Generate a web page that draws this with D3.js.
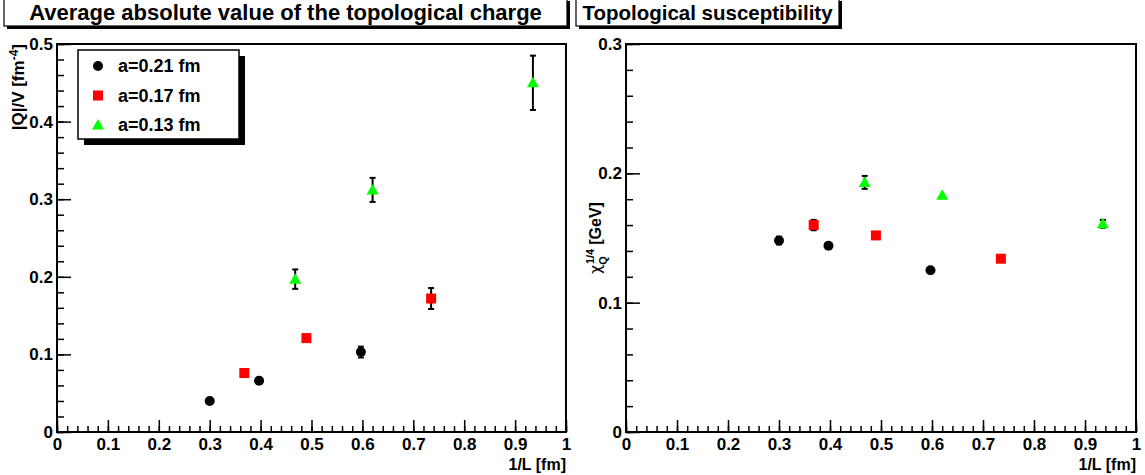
<!DOCTYPE html>
<html><head><meta charset="utf-8">
<script src="https://cdn.jsdelivr.net/npm/d3@7"></script>
<style>body{margin:0;background:#fff}svg{display:block;font-family:"Liberation Sans",Arial,sans-serif;font-weight:bold}</style>
</head><body><svg id="c" width="1145" height="475"></svg>
<script>
const xTicks = [0,0.1,0.2,0.3,0.4,0.5,0.6,0.7,0.8,0.9,1];
const xTickLabels = ["0","0.1","0.2","0.3","0.4","0.5","0.6","0.7","0.8","0.9","1"];
const yTicksLeft = [0,0.1,0.2,0.3,0.4,0.5];
const yTickLabelsLeft = ["0","0.1","0.2","0.3","0.4","0.5"];
const yTicksRight = [0,0.1,0.2,0.3];
const yTickLabelsRight = ["0","0.1","0.2","0.3"];
const seriesNames = ["a=0.21 fm","a=0.17 fm","a=0.13 fm"];
const seriesColors = ["#000000","#ff0000","#00ff00"];
const seriesShapes = ["circle","square","triangle"];
// 1/L values per lattice spacing
const invL = [[0.300,0.397,0.597],[0.368,0.490,0.735],[0.468,0.620,0.935]];
// <|Q|>/V [fm^-4]
const qv = [[0.040,0.066,0.103],[0.076,0.121,0.172],[0.197,0.312,0.450]];
const qvErr = [[0.002,0.002,0.007],[0.002,0.002,0.0135],[0.0125,0.0155,0.035]];
// chi^(1/4) [GeV]
const chi = [[0.148,0.144,0.125],[0.160,0.152,0.134],[0.193,0.183,0.161]];
const chiErr = [[0.003,0.001,0.001],[0.004,0.001,0.001],[0.005,0.001,0.003]];

const svg = d3.select("#c");

function titleBox(x0,x1,text,fs){
  const g = svg.append("g");
  g.append("rect").attr("x",x0+3).attr("y",-2+3).attr("width",x1-x0).attr("height",28).attr("fill","#000");
  g.append("rect").attr("x",x0).attr("y",-2).attr("width",x1-x0).attr("height",28).attr("fill","#fff").attr("stroke","#000").attr("stroke-width",1.2);
  g.append("text").attr("x",(x0+x1)/2).attr("y",20).attr("text-anchor","middle").attr("font-size",fs).text(text);
}

function marker(g,shape,color,cx,cy){
  if(shape==="circle") g.append("circle").attr("cx",cx).attr("cy",cy).attr("r",5).attr("fill",color);
  else if(shape==="square") g.append("rect").attr("x",cx-5).attr("y",cy-5).attr("width",10).attr("height",10).attr("fill",color);
  else g.append("path").attr("d",`M${cx},${cy-6}L${cx+6},${cy+4.5}L${cx-6},${cy+4.5}Z`).attr("fill",color);
}

function panel(px0,px1,ymax,yTicks,yLabels,ys,yerr,legend){
  const x = d3.scaleLinear().domain([0,1]).range([px0,px1]);
  const y = d3.scaleLinear().domain([0,ymax]).range([432,44]);
  const g = svg.append("g");
  const xMinor = d3.range(0,1.0001,0.02);
  g.append("g").attr("transform","translate(0,432)")
    .call(d3.axisBottom(x).tickValues(xMinor).tickSize(-6).tickFormat(""))
    .call(a=>{a.select(".domain").remove();a.selectAll("line").attr("stroke-width",1.5);});
  g.append("g").attr("transform","translate(0,432)")
    .call(d3.axisBottom(x).tickValues(xTicks).tickSize(-12).tickPadding(15).tickFormat((d,i)=>xTickLabels[i]))
    .call(a=>{a.select(".domain").remove();a.selectAll("line").attr("stroke-width",1.5);
      a.selectAll("text").attr("font-size",17).attr("font-family","Liberation Sans, Arial").attr("font-weight","bold").attr("fill","#000").attr("dy","0.2em");});
  const yMinor = d3.range(0,ymax+1e-9,0.02);
  g.append("g").attr("transform",`translate(${px0},0)`)
    .call(d3.axisLeft(y).tickValues(yMinor).tickSize(-7).tickFormat(""))
    .call(a=>{a.select(".domain").remove();a.selectAll("line").attr("stroke-width",1.5);});
  g.append("g").attr("transform",`translate(${px0},0)`)
    .call(d3.axisLeft(y).tickValues(yTicks).tickSize(-14).tickPadding(4).tickFormat((d,i)=>yLabels[i]))
    .call(a=>{a.select(".domain").remove();a.selectAll("line").attr("stroke-width",1.5);
      a.selectAll("text").attr("font-size",17).attr("font-family","Liberation Sans, Arial").attr("font-weight","bold").attr("fill","#000");});
  g.append("rect").attr("x",px0).attr("y",44).attr("width",px1-px0).attr("height",388)
    .attr("fill","none").attr("stroke","#000").attr("stroke-width",2);
  g.append("text").attr("x",px1).attr("y",470).attr("text-anchor","end").attr("font-size",16).text("1/L [fm]");
  for(let s=0;s<3;s++){
    for(let i=0;i<invL[s].length;i++){
      const cx=x(invL[s][i]), cy=y(ys[s][i]);
      const t=y(ys[s][i]+yerr[s][i]), b=y(ys[s][i]-yerr[s][i]);
      if(b-t>3){
        g.append("line").attr("x1",cx).attr("x2",cx).attr("y1",t).attr("y2",b).attr("stroke","#000").attr("stroke-width",2);
        g.append("line").attr("x1",cx-3).attr("x2",cx+3).attr("y1",t).attr("y2",t).attr("stroke","#000").attr("stroke-width",2);
        g.append("line").attr("x1",cx-3).attr("x2",cx+3).attr("y1",b).attr("y2",b).attr("stroke","#000").attr("stroke-width",2);
      }
      marker(g,seriesShapes[s],seriesColors[s],cx,cy);
    }
  }
  if(legend){
    const lg = svg.append("g");
    lg.append("rect").attr("x",84).attr("y",56).attr("width",161).attr("height",89).attr("fill","#000");
    lg.append("rect").attr("x",78).attr("y",50).attr("width",161).attr("height",89).attr("fill","#fff").attr("stroke","#000").attr("stroke-width",1.5);
    seriesNames.forEach((n,i)=>{
      const yy = 66+i*29.5;
      marker(lg,seriesShapes[i],seriesColors[i],98,yy);
      lg.append("text").attr("x",118).attr("y",yy+6).attr("font-size",18).text(n);
    });
  }
  return {x,y};
}

titleBox(4,567,"Average absolute value of the topological charge",22);
titleBox(576,839,"Topological susceptibility",20.5);

panel(57,566,0.5,yTicksLeft,yTickLabelsLeft,qv,qvErr,true);
panel(626,1136,0.3,yTicksRight,yTickLabelsRight,chi,chiErr,false);

const yt1 = svg.append("text").attr("transform","translate(24,44) rotate(-90)").attr("text-anchor","end").attr("font-size",17);
yt1.append("tspan").text("|Q|/V [fm");
yt1.append("tspan").attr("dy",-6).attr("font-size",12).text("-4");
yt1.append("tspan").attr("dy",6).text("]");
const yt2 = svg.append("text").attr("transform","translate(601,238) rotate(-90)").attr("text-anchor","middle").attr("font-size",16);
yt2.append("tspan").attr("font-weight","normal").attr("font-family","DejaVu Sans").text("χ");
yt2.append("tspan").attr("dy",6).attr("font-size",11).text("Q");
yt2.append("tspan").attr("dy",-13).attr("dx",-8).attr("font-size",11).text("1/4");
yt2.append("tspan").attr("dy",7).attr("dx",4).text("[GeV]");
</script></body></html>
